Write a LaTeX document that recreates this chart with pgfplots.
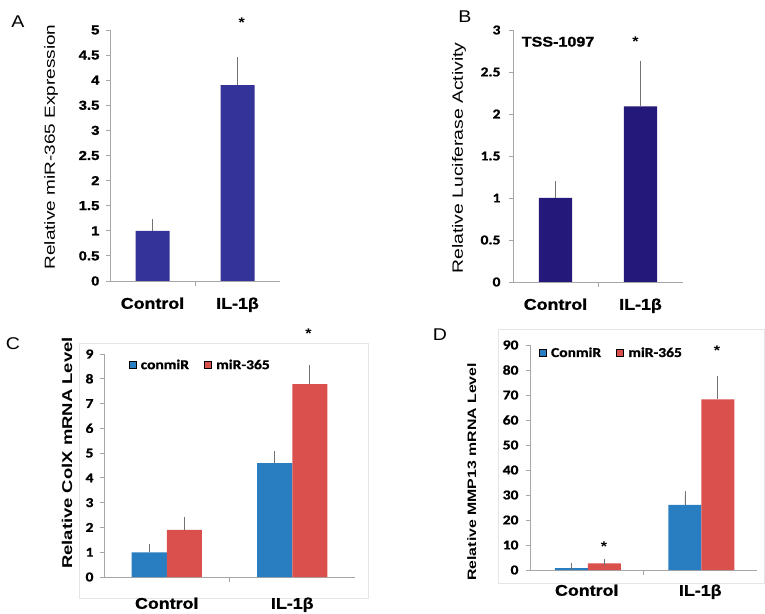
\documentclass[border=0pt]{standalone}
\usepackage{pgfplots}
\pgfplotsset{compat=1.18}
\usepackage{fontspec}
\setmainfont{Liberation Sans}
\newfontfamily\arial{Liberation Sans}[FakeStretch=1.15]
\newfontfamily\arialT{Liberation Sans}[FakeStretch=1.15, BoldFeatures={FakeBold=1.2}]
\newfontfamily\arialw{Liberation Sans}[FakeStretch=1.3]
\newfontfamily\carl{Carlito}[FakeStretch=1.15]
\newfontfamily\carlT{Carlito}[FakeStretch=1.15, BoldFeatures={FakeBold=1.2}]
\definecolor{navyA}{RGB}{51,51,153}
\definecolor{navyB}{RGB}{36,24,122}
\definecolor{cblue}{RGB}{40,126,192}
\definecolor{cred}{RGB}{217,80,77}
\pgfplotsset{
 panel/.style={
  scale only axis, enlargelimits=false, clip=false,
  axis x line*=bottom, axis y line*=left,
  axis line style={gray!70, line width=0.8pt, -},
  xmin=0, xmax=2, ymin=0,
  xtick={0.5,1.5}, xticklabels={Control, IL-1β},
  minor xtick={1},
  tick align=outside,
  major tick length=4pt, minor tick length=5pt,
  major x tick style={draw=none},
  minor x tick style={gray!70, line width=0.8pt},
  ytick style={gray!70, line width=0.8pt},
  legend image code/.code={\fill[##1] (0pt,-3.5pt) rectangle (7pt,3.5pt); \path[draw=none,fill=none] (0pt,0pt) -- (10pt,0pt);},
 },
 errs/.style={error bars/.cd, y dir=plus, y explicit,
   error bar style={black!55, line width=0.8pt},
   error mark options={black!55, mark size=3.5pt, line width=0.8pt}},
}
\begin{document}
\begin{tikzpicture}
\useasboundingbox (0,0) rectangle (765pt,613pt);
% frames of C and D
\draw[gray!20, line width=0.6pt] (79pt,270pt) rectangle (368pt,15pt);
\draw[gray!20, line width=0.6pt] (498pt,284pt) rectangle (764pt,30pt);
% panel letters
\node[font=\arial\fontsize{17}{17}\selectfont] at (18pt,591pt) {A};
\node[font=\arial\fontsize{17}{17}\selectfont] at (465pt,596pt) {B};
\node[font=\arial\fontsize{17}{17}\selectfont] at (13pt,269pt) {C};
\node[font=\arial\fontsize{17}{17}\selectfont] at (440pt,278pt) {D};

% ---------------- A
\begin{axis}[panel, at={(110pt,332pt)}, anchor=south west, width=170pt, height=251pt,
  ymax=5, ytick={0,0.5,1,1.5,2,2.5,3,3.5,4,4.5,5},
  yticklabels={0,0.5,1,1.5,2,2.5,3,3.5,4,4.5,5},
  xticklabel style={font=\arialT\bfseries\fontsize{15.5}{15.5}\selectfont, yshift=-9pt},
  y tick label style={font=\arialT\bfseries\fontsize{13}{13}\selectfont, xshift=-3pt},
  every axis y label/.style={at={(axis description cs:-0.347,0.534)}, rotate=90, anchor=center, font=\arialw\fontsize{14.6}{14.6}\selectfont},
  ylabel={Relative miR-365 Expression}]
\addplot[ybar, bar width=0.4, bar shift=0pt, fill=navyA, draw=none, errs] coordinates {(0.5,1.0) +- (0,0.16) (1.5,3.9) +- (0,0.5)};
\node[font=\arial\bfseries\fontsize{14}{14}\selectfont] at (axis cs:1.55,5.15) {*};
\end{axis}

% ---------------- B
\begin{axis}[panel, at={(513pt,331pt)}, anchor=south west, width=170pt, height=252pt,
  ymax=3, ytick={0,0.5,1,1.5,2,2.5,3},
  yticklabels={0,0.5,1,1.5,2,2.5,3},
  xticklabel style={font=\arialT\bfseries\fontsize{15.5}{15.5}\selectfont, yshift=-9pt},
  y tick label style={font=\carlT\bfseries\fontsize{13.5}{13.5}\selectfont, xshift=-5pt},
  every axis y label/.style={at={(axis description cs:-0.318,0.492)}, rotate=90, anchor=center, font=\arialw\fontsize{14.9}{14.9}\selectfont},
  ylabel={Relative Luciferase Activity}]
\addplot[ybar, bar width=0.39, bar shift=0pt, fill=navyB, draw=none, errs] coordinates {(0.5,1.0) +- (0,0.16) (1.5,2.09) +- (0,0.5)};
\node[font=\arialT\bfseries\fontsize{14}{14}\selectfont] at (axis cs:0.53,2.86) {TSS-1097};
\node[font=\arial\bfseries\fontsize{14}{14}\selectfont] at (axis cs:1.44,2.86) {*};
\end{axis}

% ---------------- C
\begin{axis}[panel, at={(104pt,36pt)}, anchor=south west, width=251pt, height=223pt,
  ymax=9, ytick={0,1,2,3,4,5,6,7,8,9},
  yticklabels={0,1,2,3,4,5,6,7,8,9},
  xticklabel style={font=\arialT\bfseries\fontsize{15.5}{15.5}\selectfont, yshift=-13pt},
  y tick label style={font=\carlT\bfseries\fontsize{13.5}{13.5}\selectfont, xshift=-3pt},
  every axis y label/.style={at={(axis description cs:-0.147,0.556)}, rotate=90, anchor=center, font=\arialw\bfseries\fontsize{14.2}{14.2}\selectfont},
  ylabel={Relative ColX mRNA Level},
  legend style={draw=none, fill=none, at={(axis cs:0.17,8.55)}, anchor=west, legend columns=2,
    font=\carlT\bfseries\fontsize{13.5}{13.5}\selectfont,
    /tikz/every even column/.append style={column sep=13pt}}]
\addplot[ybar, forget plot, bar width=0.28, bar shift=0pt, fill=cblue, draw=none, errs] coordinates {(0.36,0.99) +- (0,0.22) (1.36,4.6) +- (0,0.35)};
\addplot[ybar, forget plot, bar width=0.28, bar shift=0pt, fill=cred, draw=none, errs] coordinates {(0.64,1.9) +- (0,0.37) (1.64,7.78) +- (0,0.62)};
\addlegendimage{fill=cblue}\addlegendentry{conmiR}
\addlegendimage{fill=cred}\addlegendentry{miR-365}
\node[font=\arial\bfseries\fontsize{14}{14}\selectfont] at (axis cs:1.63,9.8) {*};
\end{axis}

% ---------------- D
\begin{axis}[panel, at={(530pt,43pt)}, anchor=south west, width=227pt, height=225pt,
  ymax=90, ytick={0,10,20,30,40,50,60,70,80,90},
  yticklabels={0,10,20,30,40,50,60,70,80,90},
  xticklabel style={font=\arialT\bfseries\fontsize{15.5}{15.5}\selectfont, yshift=-7pt},
  y tick label style={font=\carlT\bfseries\fontsize{13.5}{13.5}\selectfont, xshift=-4pt},
  every axis y label/.style={at={(axis description cs:-0.256,0.436)}, rotate=90, anchor=center, font=\arialw\bfseries\fontsize{12.2}{12.2}\selectfont},
  ylabel={Relative MMP13 mRNA Level},
  legend style={draw=none, fill=none, at={(axis cs:0.05,86.8)}, anchor=west, legend columns=2,
    font=\carlT\bfseries\fontsize{13.5}{13.5}\selectfont,
    /tikz/every even column/.append style={column sep=13pt}}]
\addplot[ybar, forget plot, bar width=0.29, bar shift=0pt, fill=cblue, draw=none, errs] coordinates {(0.365,0.8) +- (0,0.5) (1.365,26.1) +- (0,4.1)};
\addplot[ybar, forget plot, bar width=0.29, bar shift=0pt, fill=cred, draw=none, errs] coordinates {(0.655,2.7) +- (0,0.5) (1.655,68.2) +- (0,8.0)};
\addlegendimage{fill=cblue}\addlegendentry{ConmiR}
\addlegendimage{fill=cred}\addlegendentry{miR-365}
\node[font=\arial\bfseries\fontsize{14}{14}\selectfont] at (axis cs:0.652,9.5) {*};
\node[font=\arial\bfseries\fontsize{14}{14}\selectfont] at (axis cs:1.647,87.6) {*};
\end{axis}
\end{tikzpicture}
\end{document}
